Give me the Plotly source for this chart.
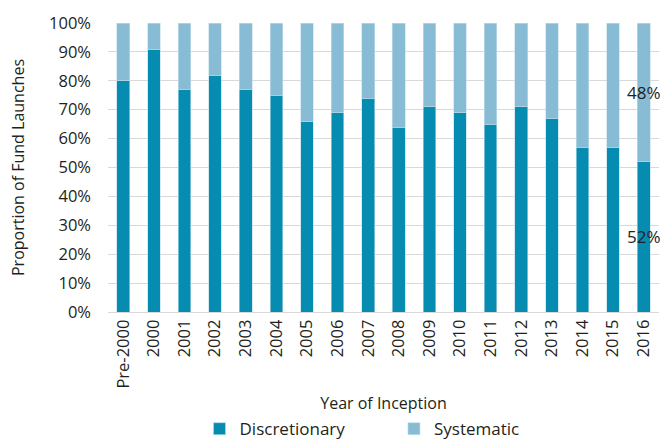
import plotly.graph_objects as go

categories = ["Pre-2000", "2000", "2001", "2002", "2003", "2004", "2005", "2006", "2007",
              "2008", "2009", "2010", "2011", "2012", "2013", "2014", "2015", "2016"]
discretionary = [80, 91, 77, 82, 77, 75, 66, 69, 74, 64, 71, 69, 65, 71, 67, 57, 57, 52]
systematic = [100 - d for d in discretionary]
y_ticks = list(range(0, 101, 10))

FONT = "Open Sans"
C_DISC = "#058cb0"
C_SYS = "#87bcd4"
TXT = "#231f20"

fig = go.Figure()
fig.add_trace(go.Bar(x=categories, y=discretionary, name="Discretionary" + "\u00a0" * 10,
                     marker=dict(color=C_DISC, line=dict(color="#b9dcea", width=0.6))))
fig.add_trace(go.Bar(x=categories, y=systematic, name="Systematic",
                     marker=dict(color=C_SYS, line=dict(color="#c4e0ec", width=0.6))))

last_idx = len(categories) - 1
fig.add_annotation(x=last_idx, y=discretionary[-1] / 2, text=f"{discretionary[-1]}%",
                   showarrow=False, xshift=0, font=dict(family=FONT, size=17, color=TXT))
fig.add_annotation(x=last_idx, y=discretionary[-1] + systematic[-1] / 2, text=f"{systematic[-1]}%",
                   showarrow=False, xshift=0, font=dict(family=FONT, size=17, color=TXT))

fig.update_layout(
    barmode="stack",
    bargap=0.585,
    width=661, height=440,
    margin=dict(l=108, r=2, t=23, b=128, autoexpand=False),
    plot_bgcolor="white", paper_bgcolor="white",
    font=dict(family=FONT, size=16, color=TXT),
    legend=dict(orientation="h", x=0.461, xanchor="center", y=-0.343, yanchor="top",
                font=dict(size=17), traceorder="normal", itemwidth=30),
    xaxis=dict(type="category", categoryorder="array", categoryarray=categories,
               range=[-0.5, len(categories) - 0.5], automargin=False,
               title=dict(text="Year of Inception", standoff=10, font=dict(size=16)),
               tickangle=-90, showgrid=False, linecolor="#d9d9d9", showline=True,
               ticks="", tickfont=dict(size=16.5)),
    yaxis=dict(title=dict(text="Proportion of Fund Launches", font=dict(size=16), standoff=20),
               range=[0, 100], tickvals=y_ticks, ticktext=[f"{v}%" for v in y_ticks],
               showgrid=True, gridcolor="#d9d9d9", gridwidth=1, zeroline=False, automargin=False,
               ticks="", ticklabelstandoff=16, tickfont=dict(size=16.5)),
)

fig.write_html("out.html")
